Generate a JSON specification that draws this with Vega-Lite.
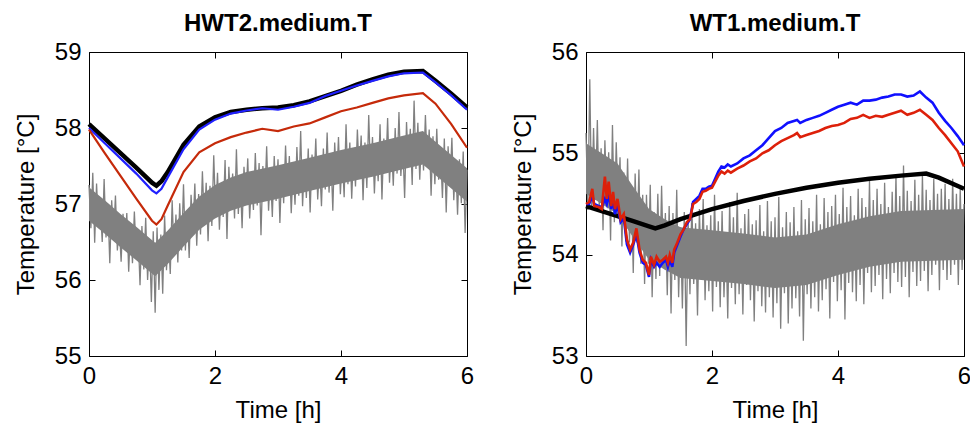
{
"$schema":"https://vega.github.io/schema/vega-lite/v6.json",
"padding":{"left":13,"top":11,"right":0,"bottom":5},
"config":{
 "font":"Liberation Sans",
 "view":{"stroke":"black","strokeWidth":1},
 "axis":{"grid":false,"domain":false,"tickColor":"black","tickSize":-6,"labelPadding":14,"titlePadding":16,"labelFont":"Liberation Sans","titleFont":"Liberation Sans","labelFontSize":24,"titleFontSize":24,"titleFontWeight":"normal","labelColor":"black","titleColor":"black","labelFlush":false},
 "axisX":{"titlePadding":10},
 "title":{"font":"Liberation Sans","fontSize":24,"fontWeight":"bold","color":"black","offset":4}
},
"datasets":{
"hband":[{"t":0,"lo":56.78,"hi":57.22},{"t":0.25,"lo":56.61,"hi":57.05},{"t":0.5,"lo":56.43,"hi":56.87},{"t":0.75,"lo":56.26,"hi":56.7},{"t":1.05,"lo":56.05,"hi":56.49},{"t":1.25,"lo":56.21,"hi":56.65},{"t":1.5,"lo":56.44,"hi":56.88},{"t":1.75,"lo":56.66,"hi":57.1},{"t":2.0,"lo":56.81,"hi":57.25},{"t":2.25,"lo":56.91,"hi":57.35},{"t":2.5,"lo":56.98,"hi":57.42},{"t":3.0,"lo":57.07,"hi":57.51},{"t":3.5,"lo":57.17,"hi":57.61},{"t":4.0,"lo":57.27,"hi":57.71},{"t":4.5,"lo":57.36,"hi":57.8},{"t":5.0,"lo":57.46,"hi":57.9},{"t":5.3,"lo":57.52,"hi":57.96},{"t":5.6,"lo":57.31,"hi":57.75},{"t":6.0,"lo":57.03,"hi":57.47}],
"wband":[{"t":0,"lo":54.6,"hi":55.1},{"t":0.25,"lo":54.5,"hi":55.0},{"t":0.5,"lo":54.4,"hi":54.9},{"t":0.75,"lo":54.17,"hi":54.67},{"t":1.0,"lo":53.95,"hi":54.45},{"t":1.25,"lo":53.85,"hi":54.35},{"t":1.5,"lo":53.77,"hi":54.27},{"t":2.0,"lo":53.74,"hi":54.24},{"t":2.5,"lo":53.71,"hi":54.21},{"t":3.0,"lo":53.67,"hi":54.17},{"t":3.5,"lo":53.7,"hi":54.2},{"t":4.0,"lo":53.8,"hi":54.3},{"t":4.5,"lo":53.88,"hi":54.38},{"t":5.0,"lo":53.93,"hi":54.43},{"t":6.0,"lo":53.95,"hi":54.45}],
"hg":[{"t":0,"v":57.25},{"t":0.03,"v":56.68},{"t":0.06,"v":57.41},{"t":0.09,"v":56.49},{"t":0.12,"v":57.27},{"t":0.15,"v":56.7},{"t":0.18,"v":56.97},{"t":0.21,"v":56.5},{"t":0.24,"v":57.33},{"t":0.27,"v":56.56},{"t":0.3,"v":56.99},{"t":0.33,"v":56.22},{"t":0.36,"v":57.05},{"t":0.39,"v":56.58},{"t":0.42,"v":57.11},{"t":0.45,"v":56.39},{"t":0.48,"v":56.71},{"t":0.51,"v":56.24},{"t":0.54,"v":56.87},{"t":0.57,"v":56.4},{"t":0.6,"v":56.88},{"t":0.63,"v":56.11},{"t":0.66,"v":56.74},{"t":0.69,"v":56.22},{"t":0.72,"v":56.9},{"t":0.75,"v":56.33},{"t":0.78,"v":56.6},{"t":0.81,"v":55.93},{"t":0.84,"v":56.71},{"t":0.87,"v":56.14},{"t":0.9,"v":56.82},{"t":0.93,"v":56.0},{"t":0.96,"v":56.53},{"t":0.99,"v":55.71},{"t":1.02,"v":56.64},{"t":1.05,"v":55.57},{"t":1.08,"v":56.69},{"t":1.11,"v":55.87},{"t":1.14,"v":56.6},{"t":1.17,"v":55.82},{"t":1.2,"v":56.85},{"t":1.23,"v":56.13},{"t":1.26,"v":56.6},{"t":1.29,"v":56.08},{"t":1.32,"v":57.05},{"t":1.35,"v":56.33},{"t":1.38,"v":56.86},{"t":1.41,"v":56.23},{"t":1.44,"v":57.01},{"t":1.47,"v":56.39},{"t":1.5,"v":57.26},{"t":1.53,"v":56.39},{"t":1.56,"v":56.92},{"t":1.59,"v":56.29},{"t":1.62,"v":57.12},{"t":1.65,"v":56.65},{"t":1.68,"v":57.27},{"t":1.71,"v":56.45},{"t":1.74,"v":57.13},{"t":1.77,"v":56.6},{"t":1.8,"v":57.43},{"t":1.83,"v":56.76},{"t":1.86,"v":57.28},{"t":1.89,"v":56.51},{"t":1.92,"v":57.24},{"t":1.95,"v":56.71},{"t":1.98,"v":57.64},{"t":2.01,"v":56.85},{"t":2.04,"v":57.41},{"t":2.07,"v":56.66},{"t":2.1,"v":57.27},{"t":2.13,"v":56.83},{"t":2.16,"v":57.58},{"t":2.19,"v":56.54},{"t":2.22,"v":57.49},{"t":2.25,"v":56.95},{"t":2.28,"v":57.4},{"t":2.31,"v":56.81},{"t":2.34,"v":57.72},{"t":2.37,"v":56.87},{"t":2.4,"v":57.38},{"t":2.43,"v":56.68},{"t":2.46,"v":57.49},{"t":2.49,"v":57.05},{"t":2.52,"v":57.6},{"t":2.55,"v":56.81},{"t":2.58,"v":57.31},{"t":2.61,"v":56.92},{"t":2.64,"v":57.67},{"t":2.67,"v":56.98},{"t":2.7,"v":57.54},{"t":2.73,"v":56.59},{"t":2.76,"v":57.5},{"t":2.79,"v":57.05},{"t":2.82,"v":57.76},{"t":2.85,"v":56.91},{"t":2.88,"v":57.42},{"t":2.91,"v":56.83},{"t":2.94,"v":57.63},{"t":2.97,"v":57.04},{"t":3.0,"v":57.59},{"t":3.03,"v":56.75},{"t":3.06,"v":57.5},{"t":3.09,"v":57.01},{"t":3.12,"v":57.77},{"t":3.15,"v":57.12},{"t":3.18,"v":57.63},{"t":3.21,"v":56.88},{"t":3.24,"v":57.49},{"t":3.27,"v":56.99},{"t":3.3,"v":57.75},{"t":3.33,"v":57.11},{"t":3.36,"v":57.96},{"t":3.39,"v":56.97},{"t":3.42,"v":57.57},{"t":3.45,"v":57.08},{"t":3.48,"v":57.73},{"t":3.51,"v":56.89},{"t":3.54,"v":57.65},{"t":3.57,"v":57.25},{"t":3.6,"v":57.86},{"t":3.63,"v":57.06},{"t":3.66,"v":57.52},{"t":3.69,"v":56.97},{"t":3.72,"v":57.73},{"t":3.75,"v":57.19},{"t":3.78,"v":57.94},{"t":3.81,"v":57.15},{"t":3.84,"v":57.65},{"t":3.87,"v":56.91},{"t":3.9,"v":57.81},{"t":3.93,"v":57.27},{"t":3.96,"v":57.88},{"t":3.99,"v":57.13},{"t":4.02,"v":57.64},{"t":4.05,"v":57.09},{"t":4.08,"v":58.05},{"t":4.11,"v":57.26},{"t":4.14,"v":57.81},{"t":4.17,"v":57.07},{"t":4.2,"v":57.72},{"t":4.23,"v":57.23},{"t":4.26,"v":57.98},{"t":4.29,"v":57.39},{"t":4.32,"v":57.9},{"t":4.35,"v":57.05},{"t":4.38,"v":57.81},{"t":4.41,"v":57.21},{"t":4.44,"v":58.17},{"t":4.47,"v":57.37},{"t":4.5,"v":57.88},{"t":4.53,"v":57.14},{"t":4.56,"v":57.74},{"t":4.59,"v":57.3},{"t":4.62,"v":58.05},{"t":4.65,"v":57.06},{"t":4.68,"v":57.86},{"t":4.71,"v":57.42},{"t":4.74,"v":58.13},{"t":4.77,"v":57.28},{"t":4.8,"v":57.84},{"t":4.83,"v":57.24},{"t":4.86,"v":58.0},{"t":4.89,"v":57.4},{"t":4.92,"v":58.21},{"t":4.95,"v":57.37},{"t":4.98,"v":57.82},{"t":5.01,"v":57.08},{"t":5.04,"v":58.08},{"t":5.07,"v":57.49},{"t":5.1,"v":57.99},{"t":5.13,"v":57.25},{"t":5.16,"v":58.36},{"t":5.19,"v":57.46},{"t":5.22,"v":58.07},{"t":5.25,"v":57.32},{"t":5.28,"v":57.93},{"t":5.31,"v":57.44},{"t":5.34,"v":58.17},{"t":5.37,"v":57.5},{"t":5.4,"v":57.98},{"t":5.43,"v":57.11},{"t":5.46,"v":57.89},{"t":5.49,"v":57.26},{"t":5.52,"v":57.99},{"t":5.55,"v":57.32},{"t":5.58,"v":57.7},{"t":5.61,"v":57.08},{"t":5.64,"v":57.86},{"t":5.67,"v":56.89},{"t":5.7,"v":57.76},{"t":5.73,"v":57.24},{"t":5.76,"v":57.87},{"t":5.79,"v":57.05},{"t":5.82,"v":57.58},{"t":5.85,"v":56.86},{"t":5.88,"v":57.59},{"t":5.91,"v":57.01},{"t":5.94,"v":57.69},{"t":5.97,"v":56.62},{"t":6.0,"v":57.45}],
"hk":[{"t":0,"v":58.05},{"t":0.25,"v":57.86},{"t":0.5,"v":57.67},{"t":0.75,"v":57.48},{"t":1.0,"v":57.28},{"t":1.07,"v":57.24},{"t":1.15,"v":57.3},{"t":1.25,"v":57.42},{"t":1.5,"v":57.78},{"t":1.75,"v":58.02},{"t":2.0,"v":58.14},{"t":2.25,"v":58.21},{"t":2.5,"v":58.24},{"t":2.75,"v":58.26},{"t":3.0,"v":58.27},{"t":3.25,"v":58.3},{"t":3.5,"v":58.35},{"t":3.75,"v":58.42},{"t":4.0,"v":58.49},{"t":4.25,"v":58.57},{"t":4.5,"v":58.64},{"t":4.75,"v":58.7},{"t":5.0,"v":58.74},{"t":5.3,"v":58.75},{"t":5.5,"v":58.62},{"t":5.75,"v":58.45},{"t":6.0,"v":58.27}],
"hb":[{"t":0,"v":58.0},{"t":0.25,"v":57.8},{"t":0.5,"v":57.6},{"t":0.75,"v":57.4},{"t":1.0,"v":57.18},{"t":1.07,"v":57.14},{"t":1.15,"v":57.2},{"t":1.25,"v":57.35},{"t":1.5,"v":57.72},{"t":1.75,"v":57.98},{"t":2.0,"v":58.11},{"t":2.25,"v":58.19},{"t":2.5,"v":58.23},{"t":2.75,"v":58.26},{"t":3.0,"v":58.24},{"t":3.25,"v":58.28},{"t":3.5,"v":58.33},{"t":3.75,"v":58.42},{"t":4.0,"v":58.49},{"t":4.25,"v":58.56},{"t":4.5,"v":58.62},{"t":4.75,"v":58.68},{"t":5.0,"v":58.72},{"t":5.3,"v":58.73},{"t":5.5,"v":58.6},{"t":5.75,"v":58.43},{"t":6.0,"v":58.24}],
"hr":[{"t":0,"v":57.98},{"t":0.25,"v":57.67},{"t":0.5,"v":57.37},{"t":0.75,"v":57.07},{"t":1.0,"v":56.78},{"t":1.07,"v":56.73},{"t":1.15,"v":56.8},{"t":1.25,"v":56.98},{"t":1.5,"v":57.42},{"t":1.75,"v":57.68},{"t":2.0,"v":57.8},{"t":2.25,"v":57.88},{"t":2.5,"v":57.94},{"t":2.75,"v":57.99},{"t":3.0,"v":57.96},{"t":3.25,"v":58.02},{"t":3.5,"v":58.06},{"t":3.75,"v":58.14},{"t":4.0,"v":58.22},{"t":4.25,"v":58.27},{"t":4.5,"v":58.33},{"t":4.75,"v":58.39},{"t":5.0,"v":58.43},{"t":5.3,"v":58.46},{"t":5.5,"v":58.32},{"t":5.75,"v":58.05},{"t":6.0,"v":57.74}],
"wg":[{"t":0,"v":55.2},{"t":0.03,"v":54.44},{"t":0.06,"v":55.73},{"t":0.09,"v":54.46},{"t":0.12,"v":55.25},{"t":0.15,"v":54.54},{"t":0.18,"v":55.33},{"t":0.21,"v":54.47},{"t":0.24,"v":55.05},{"t":0.27,"v":54.24},{"t":0.3,"v":55.13},{"t":0.33,"v":54.52},{"t":0.36,"v":55.01},{"t":0.39,"v":54.14},{"t":0.42,"v":55.28},{"t":0.45,"v":54.32},{"t":0.48,"v":55.11},{"t":0.51,"v":54.49},{"t":0.54,"v":54.96},{"t":0.57,"v":54.08},{"t":0.6,"v":54.81},{"t":0.63,"v":54.13},{"t":0.66,"v":54.95},{"t":0.69,"v":54.12},{"t":0.72,"v":54.65},{"t":0.75,"v":53.82},{"t":0.78,"v":54.8},{"t":0.81,"v":54.12},{"t":0.84,"v":54.84},{"t":0.87,"v":53.91},{"t":0.9,"v":54.59},{"t":0.93,"v":53.71},{"t":0.96,"v":54.59},{"t":0.99,"v":53.91},{"t":1.02,"v":54.69},{"t":1.05,"v":53.58},{"t":1.08,"v":54.42},{"t":1.11,"v":53.76},{"t":1.14,"v":54.6},{"t":1.17,"v":53.79},{"t":1.2,"v":54.68},{"t":1.23,"v":53.87},{"t":1.26,"v":54.41},{"t":1.29,"v":53.6},{"t":1.32,"v":54.48},{"t":1.35,"v":53.42},{"t":1.38,"v":54.41},{"t":1.41,"v":53.75},{"t":1.44,"v":54.64},{"t":1.47,"v":53.58},{"t":1.5,"v":54.27},{"t":1.53,"v":53.47},{"t":1.56,"v":54.42},{"t":1.59,"v":53.1},{"t":1.62,"v":54.36},{"t":1.65,"v":53.61},{"t":1.68,"v":54.51},{"t":1.71,"v":53.71},{"t":1.74,"v":54.31},{"t":1.77,"v":53.4},{"t":1.8,"v":54.45},{"t":1.83,"v":53.75},{"t":1.86,"v":54.55},{"t":1.89,"v":53.55},{"t":1.92,"v":54.29},{"t":1.95,"v":53.64},{"t":1.98,"v":54.39},{"t":2.01,"v":53.44},{"t":2.04,"v":54.59},{"t":2.07,"v":53.68},{"t":2.1,"v":54.33},{"t":2.13,"v":53.48},{"t":2.16,"v":54.43},{"t":2.19,"v":53.58},{"t":2.22,"v":54.22},{"t":2.25,"v":53.37},{"t":2.28,"v":54.52},{"t":2.31,"v":53.67},{"t":2.34,"v":54.37},{"t":2.37,"v":53.51},{"t":2.4,"v":54.61},{"t":2.43,"v":53.61},{"t":2.46,"v":54.26},{"t":2.49,"v":53.41},{"t":2.52,"v":54.4},{"t":2.55,"v":53.7},{"t":2.58,"v":54.45},{"t":2.61,"v":53.55},{"t":2.64,"v":54.3},{"t":2.67,"v":53.34},{"t":2.7,"v":54.34},{"t":2.73,"v":53.64},{"t":2.76,"v":54.49},{"t":2.79,"v":53.49},{"t":2.82,"v":54.23},{"t":2.85,"v":53.43},{"t":2.88,"v":54.53},{"t":2.91,"v":53.58},{"t":2.94,"v":54.33},{"t":2.97,"v":53.38},{"t":3.0,"v":54.37},{"t":3.03,"v":53.52},{"t":3.06,"v":54.57},{"t":3.09,"v":53.27},{"t":3.12,"v":54.27},{"t":3.15,"v":53.62},{"t":3.18,"v":54.42},{"t":3.21,"v":53.32},{"t":3.24,"v":54.32},{"t":3.27,"v":53.47},{"t":3.3,"v":54.47},{"t":3.33,"v":53.57},{"t":3.36,"v":54.23},{"t":3.39,"v":53.39},{"t":3.42,"v":54.54},{"t":3.45,"v":53.15},{"t":3.48,"v":54.35},{"t":3.51,"v":53.61},{"t":3.54,"v":54.46},{"t":3.57,"v":53.47},{"t":3.6,"v":54.33},{"t":3.63,"v":53.58},{"t":3.66,"v":54.59},{"t":3.69,"v":53.44},{"t":3.72,"v":54.3},{"t":3.75,"v":53.55},{"t":3.78,"v":54.56},{"t":3.81,"v":53.66},{"t":3.84,"v":54.42},{"t":3.87,"v":53.37},{"t":3.9,"v":54.48},{"t":3.93,"v":53.73},{"t":3.96,"v":54.59},{"t":3.99,"v":53.54},{"t":4.02,"v":54.4},{"t":4.05,"v":53.65},{"t":4.08,"v":54.66},{"t":4.11,"v":53.36},{"t":4.14,"v":54.47},{"t":4.17,"v":53.72},{"t":4.2,"v":54.58},{"t":4.23,"v":53.63},{"t":4.26,"v":54.39},{"t":4.29,"v":53.54},{"t":4.32,"v":54.65},{"t":4.35,"v":53.7},{"t":4.38,"v":54.56},{"t":4.41,"v":53.51},{"t":4.44,"v":54.47},{"t":4.47,"v":53.82},{"t":4.5,"v":54.73},{"t":4.53,"v":53.63},{"t":4.56,"v":54.54},{"t":4.59,"v":53.69},{"t":4.62,"v":54.65},{"t":4.65,"v":53.8},{"t":4.68,"v":54.5},{"t":4.71,"v":53.56},{"t":4.74,"v":54.71},{"t":4.77,"v":53.76},{"t":4.8,"v":54.47},{"t":4.83,"v":53.62},{"t":4.86,"v":54.62},{"t":4.89,"v":53.82},{"t":4.92,"v":54.78},{"t":4.95,"v":53.73},{"t":4.98,"v":54.58},{"t":5.01,"v":53.68},{"t":5.04,"v":54.88},{"t":5.07,"v":53.78},{"t":5.1,"v":54.63},{"t":5.13,"v":53.58},{"t":5.16,"v":54.53},{"t":5.19,"v":53.83},{"t":5.22,"v":54.74},{"t":5.25,"v":53.69},{"t":5.28,"v":54.59},{"t":5.31,"v":53.74},{"t":5.34,"v":54.79},{"t":5.37,"v":53.84},{"t":5.4,"v":54.64},{"t":5.43,"v":53.64},{"t":5.46,"v":54.54},{"t":5.49,"v":53.8},{"t":5.52,"v":54.75},{"t":5.55,"v":53.9},{"t":5.58,"v":54.6},{"t":5.61,"v":53.65},{"t":5.64,"v":54.65},{"t":5.67,"v":53.85},{"t":5.7,"v":54.7},{"t":5.73,"v":53.75},{"t":5.76,"v":54.55},{"t":5.79,"v":53.8},{"t":5.82,"v":54.75},{"t":5.85,"v":53.9},{"t":5.88,"v":54.6},{"t":5.91,"v":53.7},{"t":5.94,"v":54.65},{"t":5.97,"v":53.85},{"t":6.0,"v":54.5}],
"wk":[{"t":0,"v":54.48},{"t":0.25,"v":54.43},{"t":0.5,"v":54.38},{"t":0.75,"v":54.33},{"t":1.0,"v":54.28},{"t":1.1,"v":54.26},{"t":1.25,"v":54.29},{"t":1.5,"v":54.35},{"t":1.75,"v":54.4},{"t":2.0,"v":54.45},{"t":2.5,"v":54.53},{"t":3.0,"v":54.6},{"t":3.5,"v":54.66},{"t":4.0,"v":54.71},{"t":4.5,"v":54.75},{"t":5.0,"v":54.78},{"t":5.4,"v":54.8},{"t":5.6,"v":54.76},{"t":6.0,"v":54.65}],
"wb":[{"t":0,"v":54.5},{"t":0.05,"v":54.5},{"t":0.1,"v":54.58},{"t":0.13,"v":54.5},{"t":0.2,"v":54.48},{"t":0.25,"v":54.47},{"t":0.3,"v":54.55},{"t":0.33,"v":54.5},{"t":0.36,"v":54.6},{"t":0.4,"v":54.45},{"t":0.43,"v":54.55},{"t":0.46,"v":54.4},{"t":0.5,"v":54.5},{"t":0.55,"v":54.32},{"t":0.6,"v":54.36},{"t":0.65,"v":54.1},{"t":0.7,"v":54.02},{"t":0.75,"v":54.1},{"t":0.8,"v":54.2},{"t":0.85,"v":54.02},{"t":0.9,"v":53.92},{"t":0.95,"v":53.9},{"t":1.0,"v":53.78},{"t":1.03,"v":53.95},{"t":1.08,"v":53.88},{"t":1.12,"v":53.92},{"t":1.17,"v":53.88},{"t":1.22,"v":53.92},{"t":1.27,"v":53.95},{"t":1.3,"v":53.88},{"t":1.33,"v":53.95},{"t":1.37,"v":53.88},{"t":1.4,"v":54.02},{"t":1.45,"v":54.1},{"t":1.5,"v":54.18},{"t":1.55,"v":54.25},{"t":1.6,"v":54.3},{"t":1.65,"v":54.35},{"t":1.7,"v":54.52},{"t":1.75,"v":54.55},{"t":1.8,"v":54.58},{"t":1.85,"v":54.65},{"t":1.9,"v":54.65},{"t":1.95,"v":54.67},{"t":2.0,"v":54.68},{"t":2.05,"v":54.75},{"t":2.1,"v":54.82},{"t":2.15,"v":54.87},{"t":2.2,"v":54.86},{"t":2.25,"v":54.89},{"t":2.3,"v":54.87},{"t":2.4,"v":54.9},{"t":2.5,"v":54.95},{"t":2.6,"v":54.98},{"t":2.7,"v":55.03},{"t":2.8,"v":55.08},{"t":2.9,"v":55.15},{"t":3.0,"v":55.22},{"t":3.1,"v":55.25},{"t":3.2,"v":55.3},{"t":3.3,"v":55.32},{"t":3.35,"v":55.33},{"t":3.4,"v":55.3},{"t":3.5,"v":55.33},{"t":3.6,"v":55.35},{"t":3.7,"v":55.37},{"t":3.8,"v":55.4},{"t":3.9,"v":55.43},{"t":4.0,"v":55.46},{"t":4.1,"v":55.48},{"t":4.2,"v":55.5},{"t":4.3,"v":55.48},{"t":4.4,"v":55.52},{"t":4.5,"v":55.52},{"t":4.6,"v":55.53},{"t":4.7,"v":55.55},{"t":4.8,"v":55.56},{"t":4.9,"v":55.58},{"t":5.0,"v":55.58},{"t":5.1,"v":55.56},{"t":5.2,"v":55.57},{"t":5.3,"v":55.61},{"t":5.4,"v":55.55},{"t":5.5,"v":55.5},{"t":5.6,"v":55.4},{"t":5.7,"v":55.32},{"t":5.8,"v":55.25},{"t":5.9,"v":55.17},{"t":6.0,"v":55.08}],
"wr":[{"t":0,"v":54.5},{"t":0.05,"v":54.52},{"t":0.1,"v":54.65},{"t":0.13,"v":54.48},{"t":0.2,"v":54.47},{"t":0.25,"v":54.45},{"t":0.3,"v":54.77},{"t":0.33,"v":54.55},{"t":0.36,"v":54.72},{"t":0.4,"v":54.48},{"t":0.43,"v":54.62},{"t":0.46,"v":54.45},{"t":0.5,"v":54.55},{"t":0.55,"v":54.35},{"t":0.6,"v":54.4},{"t":0.65,"v":54.15},{"t":0.7,"v":54.05},{"t":0.75,"v":54.12},{"t":0.8,"v":54.26},{"t":0.85,"v":54.05},{"t":0.9,"v":53.95},{"t":0.95,"v":53.92},{"t":1.0,"v":53.8},{"t":1.03,"v":53.98},{"t":1.08,"v":53.9},{"t":1.12,"v":53.98},{"t":1.17,"v":53.93},{"t":1.22,"v":53.95},{"t":1.27,"v":53.98},{"t":1.3,"v":53.92},{"t":1.33,"v":54.0},{"t":1.37,"v":53.92},{"t":1.4,"v":54.05},{"t":1.45,"v":54.12},{"t":1.5,"v":54.2},{"t":1.55,"v":54.25},{"t":1.6,"v":54.32},{"t":1.65,"v":54.35},{"t":1.7,"v":54.5},{"t":1.75,"v":54.52},{"t":1.8,"v":54.55},{"t":1.85,"v":54.62},{"t":1.9,"v":54.63},{"t":1.95,"v":54.65},{"t":2.0,"v":54.66},{"t":2.05,"v":54.72},{"t":2.1,"v":54.78},{"t":2.15,"v":54.82},{"t":2.2,"v":54.8},{"t":2.25,"v":54.83},{"t":2.3,"v":54.81},{"t":2.4,"v":54.85},{"t":2.5,"v":54.88},{"t":2.6,"v":54.92},{"t":2.7,"v":54.95},{"t":2.8,"v":55.0},{"t":2.9,"v":55.03},{"t":3.0,"v":55.08},{"t":3.1,"v":55.12},{"t":3.2,"v":55.15},{"t":3.3,"v":55.18},{"t":3.35,"v":55.2},{"t":3.4,"v":55.16},{"t":3.5,"v":55.18},{"t":3.6,"v":55.2},{"t":3.7,"v":55.22},{"t":3.8,"v":55.25},{"t":3.9,"v":55.27},{"t":4.0,"v":55.28},{"t":4.1,"v":55.3},{"t":4.2,"v":55.34},{"t":4.3,"v":55.35},{"t":4.4,"v":55.38},{"t":4.5,"v":55.35},{"t":4.6,"v":55.37},{"t":4.7,"v":55.36},{"t":4.8,"v":55.38},{"t":4.9,"v":55.4},{"t":5.0,"v":55.42},{"t":5.1,"v":55.38},{"t":5.2,"v":55.4},{"t":5.3,"v":55.43},{"t":5.4,"v":55.38},{"t":5.5,"v":55.33},{"t":5.6,"v":55.25},{"t":5.7,"v":55.18},{"t":5.8,"v":55.1},{"t":5.9,"v":55.02},{"t":6.0,"v":54.87}]
},
"spacing":33,
"hconcat":[
{
 "width":378,"height":304,
 "title":{"text":"HWT2.medium.T"},
 "resolve":{"axis":{"x":"independent","y":"independent"}},
 "layer":[
  {"data":{"name":"hband"},"mark":{"type":"area","color":"#808080","opacity":1},
   "encoding":{"x":{"field":"t","type":"quantitative","scale":{"domain":[0,6],"nice":false},"axis":{"orient":"top","values":[0,2,4,6],"labels":false,"title":null}},
               "y":{"field":"lo","type":"quantitative","scale":{"domain":[55,59],"nice":false,"zero":false},"axis":{"orient":"right","values":[55,56,57,58,59],"labels":false,"title":null}},"y2":{"field":"hi"}}},
  {"data":{"name":"hg"},"mark":{"type":"line","color":"#808080","strokeWidth":1.3},
   "encoding":{"x":{"field":"t","type":"quantitative","axis":{"orient":"bottom","values":[0,2,4,6],"title":"Time [h]"}},
               "y":{"field":"v","type":"quantitative","axis":{"orient":"left","values":[55,56,57,58,59],"title":"Temperature [°C]"}}}},
  {"data":{"name":"hk"},"mark":{"type":"line","color":"black","strokeWidth":4.5},
   "encoding":{"x":{"field":"t","type":"quantitative","axis":null},"y":{"field":"v","type":"quantitative","axis":null}}},
  {"data":{"name":"hb"},"mark":{"type":"line","color":"#2020ff","strokeWidth":2.2},
   "encoding":{"x":{"field":"t","type":"quantitative","axis":null},"y":{"field":"v","type":"quantitative","axis":null}}},
  {"data":{"name":"hr"},"mark":{"type":"line","color":"#c52a0a","strokeWidth":2.2},
   "encoding":{"x":{"field":"t","type":"quantitative","axis":null},"y":{"field":"v","type":"quantitative","axis":null}}}
 ]
},
{
 "width":378,"height":304,
 "title":{"text":"WT1.medium.T"},
 "resolve":{"axis":{"x":"independent","y":"independent"}},
 "layer":[
  {"data":{"name":"wband"},"mark":{"type":"area","color":"#808080","opacity":1},
   "encoding":{"x":{"field":"t","type":"quantitative","scale":{"domain":[0,6],"nice":false},"axis":{"orient":"top","values":[0,2,4,6],"labels":false,"title":null}},
               "y":{"field":"lo","type":"quantitative","scale":{"domain":[53,56],"nice":false,"zero":false},"axis":{"orient":"right","values":[53,54,55,56],"labels":false,"title":null}},"y2":{"field":"hi"}}},
  {"data":{"name":"wg"},"mark":{"type":"line","color":"#808080","strokeWidth":1.3},
   "encoding":{"x":{"field":"t","type":"quantitative","axis":{"orient":"bottom","values":[0,2,4,6],"title":"Time [h]"}},
               "y":{"field":"v","type":"quantitative","axis":{"orient":"left","values":[53,54,55,56],"title":"Temperature [°C]"}}}},
  {"data":{"name":"wk"},"mark":{"type":"line","color":"black","strokeWidth":4.5},
   "encoding":{"x":{"field":"t","type":"quantitative","axis":null},"y":{"field":"v","type":"quantitative","axis":null}}},
  {"data":{"name":"wb"},"mark":{"type":"line","color":"#1010ff","strokeWidth":2.6},
   "encoding":{"x":{"field":"t","type":"quantitative","axis":null},"y":{"field":"v","type":"quantitative","axis":null}}},
  {"data":{"name":"wr"},"mark":{"type":"line","color":"#dd200a","strokeWidth":2.6},
   "encoding":{"x":{"field":"t","type":"quantitative","axis":null},"y":{"field":"v","type":"quantitative","axis":null}}}
 ]
}
]
}
